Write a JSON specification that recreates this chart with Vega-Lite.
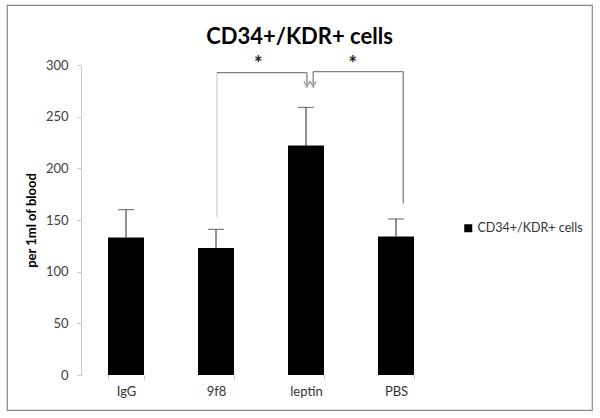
{
  "$schema": "https://vega.github.io/schema/vega-lite/v6.json",
  "width": 585,
  "height": 405,
  "autosize": {"type": "none"},
  "padding": {"left": 7, "top": 5, "right": 8, "bottom": 8},
  "background": "white",
  "title": {"text": "CD34+/KDR+ cells", "font": "Lato", "fontSize": 22, "fontWeight": "bold", "color": "#000000", "anchor": "middle", "offset": -44},
  "config": {
    "view": {"stroke": "#888888", "strokeWidth": 1.2},
    "font": "Lato"
  },
  "datasets": {
    "bars": [
      {"group": "IgG", "value": 133, "err": 160, "series": "CD34+/KDR+ cells"},
      {"group": "9f8", "value": 123, "err": 141, "series": "CD34+/KDR+ cells"},
      {"group": "leptin", "value": 222, "err": 259, "series": "CD34+/KDR+ cells"},
      {"group": "PBS", "value": 134, "err": 151, "series": "CD34+/KDR+ cells"}
    ],
    "brackets": [
      {"part": "faint", "x": 1.51, "x2": 1.51, "y": 153, "y2": 292.7},
      {"part": "line", "x": 1.51, "x2": 2.51, "y": 292.7, "y2": 292.7},
      {"part": "line", "x": 2.51, "x2": 2.51, "y": 292.7, "y2": 281},
      {"part": "line", "x": 3.58, "x2": 3.58, "y": 166, "y2": 293.5},
      {"part": "line", "x": 2.58, "x2": 3.58, "y": 293.5, "y2": 293.5},
      {"part": "line", "x": 2.58, "x2": 2.58, "y": 293.5, "y2": 281}
    ],
    "arrows": [
      {"x": 2.51, "y": 281.5},
      {"x": 2.58, "y": 281.5}
    ],
    "stars": [
      {"x": 1.97, "y": 300, "label": "*"},
      {"x": 3.02, "y": 300, "label": "*"}
    ]
  },
  "layer": [
    {
      "data": {"name": "bars"},
      "encoding": {
        "x": {
          "field": "group", "type": "nominal", "sort": null,
          "scale": {"range": [74, 434], "paddingInner": 0.6, "paddingOuter": 0.3},
          "axis": {"title": null, "labelAngle": 0, "domain": false, "tickBand": "extent", "tickColor": "#bfbfbf", "tickSize": 4, "labelPadding": 6, "labelFont": "Lato", "labelFontSize": 13, "labelColor": "#333333", "offset": -35}
        }
      },
      "layer": [
        {
          "mark": {"type": "bar"},
          "encoding": {
            "y": {
              "field": "value", "type": "quantitative",
              "scale": {"domain": [0, 300], "range": [370, 60], "nice": false, "zero": true},
              "axis": {"title": "per 1ml of blood", "titleFont": "Lato", "titleFontSize": 13, "titleFontWeight": "bold", "titleColor": "#000000", "titlePadding": 7, "values": [0, 50, 100, 150, 200, 250, 300], "grid": false, "domainColor": "#c8c8c8", "tickColor": "#c8c8c8", "tickSize": 4, "labelPadding": 9, "labelFont": "Lato", "labelFontSize": 13, "labelColor": "#404040", "offset": -74}
            },
            "color": {
              "field": "series", "type": "nominal",
              "scale": {"range": ["#000000"]},
              "legend": {"title": null, "orient": "none", "legendX": 455, "legendY": 217, "symbolType": "square", "symbolSize": 64, "symbolStrokeWidth": 0, "labelFont": "Lato", "labelFontSize": 12.5, "labelColor": "#333333", "labelOffset": 3}
            }
          }
        },
        {
          "mark": {"type": "rule", "color": "#222222", "strokeWidth": 1},
          "encoding": {
            "y": {"field": "value", "type": "quantitative", "title": "per 1ml of blood"},
            "y2": {"field": "err"}
          }
        },
        {
          "mark": {"type": "tick", "color": "#222222", "size": 16, "thickness": 1},
          "encoding": {
            "y": {"field": "err", "type": "quantitative", "title": "per 1ml of blood"}
          }
        }
      ]
    },
    {
      "layer": [
        {
          "data": {"name": "brackets"},
          "mark": {"type": "rule", "strokeWidth": 1.3},
          "encoding": {
            "x": {"field": "x", "type": "quantitative", "scale": {"domain": [0, 4], "range": [74, 434], "nice": false, "zero": false}, "axis": null},
            "x2": {"field": "x2"},
            "y": {"field": "y", "type": "quantitative", "title": "per 1ml of blood"},
            "y2": {"field": "y2"},
            "color": {"field": "part", "type": "nominal", "scale": {"domain": ["faint", "line"], "range": ["#d4d4d4", "#808080"]}, "legend": null}
          }
        },
        {
          "data": {"name": "arrows"},
          "mark": {"type": "point", "shape": "M-1,-1L0,1L1,-1", "filled": false, "stroke": "#707070", "strokeWidth": 1.2, "size": 36},
          "encoding": {
            "x": {"field": "x", "type": "quantitative"},
            "y": {"field": "y", "type": "quantitative", "title": "per 1ml of blood"}
          }
        },
        {
          "data": {"name": "stars"},
          "mark": {"type": "text", "font": "Lato", "fontSize": 20, "fontWeight": "bold", "color": "#222222", "baseline": "middle", "align": "center"},
          "encoding": {
            "x": {"field": "x", "type": "quantitative"},
            "y": {"field": "y", "type": "quantitative", "title": "per 1ml of blood"},
            "text": {"field": "label"}
          }
        }
      ]
    }
  ],
  "resolve": {"scale": {"x": "independent", "color": "independent"}, "axis": {"x": "independent"}}
}
